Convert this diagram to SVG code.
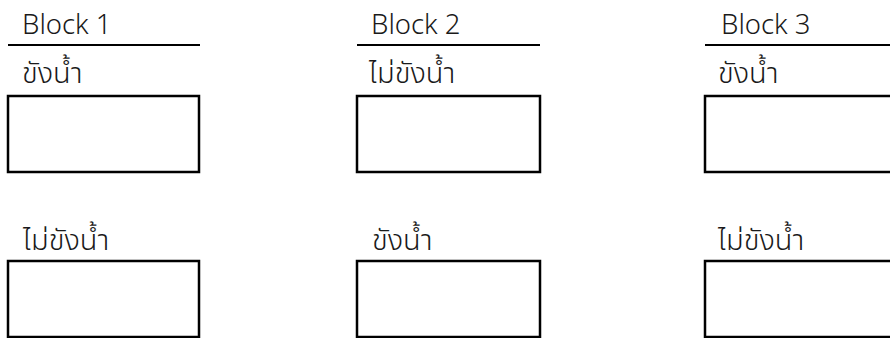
<svg xmlns="http://www.w3.org/2000/svg" width="890" height="338" viewBox="0 0 890 338">
<style>
.hdr{font-family:"Noto Sans","Liberation Sans",sans-serif;font-size:27.5px;font-weight:300;fill:#1a1a1a}
.th{font-family:"Noto Sans","Noto Sans Thai","DejaVu Sans",sans-serif;font-size:29px;font-weight:300;fill:#1a1a1a}
.box{fill:#fff;stroke:#000;stroke-width:2.5}
.rule{stroke:#000;stroke-width:2}
</style>
<rect width="890" height="338" fill="#fff"/>
<g id="block1">
<text class="hdr" x="22" y="34">Block 1</text>
<line class="rule" x1="8" y1="45" x2="200" y2="45"/>
<text class="th" x="22" y="83">ขังน้ำ</text>
<rect id="b1top" class="box" x="8" y="96" width="191" height="76"/>
<text class="th" x="23" y="250">ไม่ขังน้ำ</text>
<rect id="b1bot" class="box" x="8" y="261" width="191" height="76"/>
</g>
<g id="block2">
<text class="hdr" x="371" y="34">Block 2</text>
<line class="rule" x1="357" y1="45" x2="540" y2="45"/>
<text class="th" x="369" y="83">ไม่ขังน้ำ</text>
<rect id="b2top" class="box" x="357" y="96" width="183" height="76"/>
<text class="th" x="372" y="250">ขังน้ำ</text>
<rect id="b2bot" class="box" x="357" y="261" width="183" height="76"/>
</g>
<g id="block3">
<text class="hdr" x="721" y="34">Block 3</text>
<line class="rule" x1="705" y1="45" x2="892" y2="45"/>
<text class="th" x="718" y="83">ขังน้ำ</text>
<rect id="b3top" class="box" x="705" y="96" width="190" height="76"/>
<text class="th" x="718" y="250">ไม่ขังน้ำ</text>
<rect id="b3bot" class="box" x="705" y="261" width="190" height="76"/>
</g>
<g id="connectors"/>
</svg>
